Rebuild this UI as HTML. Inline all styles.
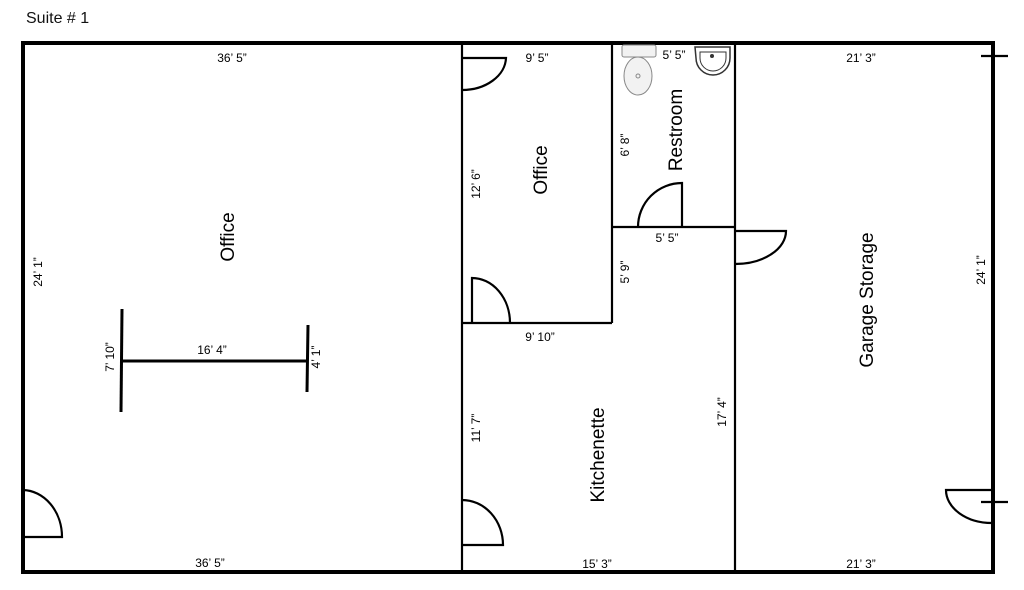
<!DOCTYPE html>
<html><head><meta charset="utf-8"><style>
html,body{margin:0;padding:0;background:#fff;}
svg{display:block;font-family:"Liberation Sans",sans-serif;}
</style></head><body>
<svg width="1024" height="590" viewBox="0 0 1024 590" xmlns="http://www.w3.org/2000/svg">
<text x="26" y="23" font-size="16" fill="#111">Suite # 1</text>
<g stroke="#000" fill="none">
<rect x="23" y="43" width="970" height="529" stroke-width="4"/>
<g stroke-width="2.2">
<line x1="462" y1="43" x2="462" y2="572"/>
<line x1="612" y1="43" x2="612" y2="323"/>
<line x1="462" y1="323" x2="612" y2="323"/>
<line x1="735" y1="43" x2="735" y2="572"/>
<line x1="612" y1="227" x2="735" y2="227"/>
<!-- doors -->
<path d="M462 58 H506 A44 33 0 0 1 462 90"/>
<path d="M472 323 V278 A38 45 0 0 1 510 323"/>
<path d="M682 227 V183 A44 44 0 0 0 638 227"/>
<path d="M735 231 H786 A51 33 0 0 1 735 264"/>
<path d="M992 490 H946 A46 33 0 0 0 992 523"/>
<path d="M23 537 H62 A40 47 0 0 0 23 490"/>
<path d="M462 545 H503 A41 45 0 0 0 462 500"/>
<line x1="981" y1="56" x2="1008" y2="56"/>
<line x1="981" y1="502" x2="1008" y2="502"/>
</g>
<g stroke-width="3">
<line x1="122" y1="309" x2="121" y2="412"/>
<line x1="122" y1="361" x2="307" y2="361"/>
<line x1="308" y1="325" x2="307" y2="392"/>
</g>
</g>
<!-- toilet -->
<g stroke="#888" fill="#f2f2f2" stroke-width="1">
<rect x="622" y="45" width="34" height="12" rx="2"/>
<ellipse cx="638" cy="76" rx="14" ry="19"/>
<ellipse cx="638" cy="76" rx="2" ry="2"/>
<path d="M695 47 H730 V58 A17 17 0 0 1 696 58 Z" fill="#fff" stroke="#333" stroke-width="1.5"/>
<path d="M700 52 H726 V58 A13 13 0 0 1 700 58 Z" fill="#fff" stroke="#333"/>
<circle cx="712" cy="56" r="2" fill="#333" stroke="none"/>
</g>
<g fill="#000" text-anchor="middle">
<g font-size="19">
<text transform="translate(234,237) rotate(-90)">Office</text>
<text transform="translate(547,170) rotate(-90)">Office</text>
<text transform="translate(682,130) rotate(-90)">Restroom</text>
<text transform="translate(873,300) rotate(-90)">Garage Storage</text>
<text transform="translate(604,455) rotate(-90)">Kitchenette</text>
</g>
<g font-size="12">
<text x="232" y="62">36’ 5”</text>
<text x="210" y="567">36’ 5”</text>
<text x="537" y="62">9’ 5”</text>
<text x="674" y="59">5’ 5”</text>
<text x="861" y="62">21’ 3”</text>
<text x="861" y="568">21’ 3”</text>
<text x="667" y="242">5’ 5”</text>
<text x="540" y="341">9’ 10”</text>
<text x="597" y="568">15’ 3”</text>
<text x="212" y="354">16’ 4”</text>
<text transform="translate(42,272) rotate(-90)">24’ 1”</text>
<text transform="translate(480,184) rotate(-90)">12’ 6”</text>
<text transform="translate(629,145) rotate(-90)">6’ 8”</text>
<text transform="translate(629,272) rotate(-90)">5’ 9”</text>
<text transform="translate(114,357) rotate(-90)">7’ 10”</text>
<text transform="translate(320,357) rotate(-90)">4’ 1”</text>
<text transform="translate(480,428) rotate(-90)">11’ 7”</text>
<text transform="translate(726,412) rotate(-90)">17’ 4”</text>
<text transform="translate(985,270) rotate(-90)">24’ 1”</text>
</g>
</g>
</svg>
</body></html>
